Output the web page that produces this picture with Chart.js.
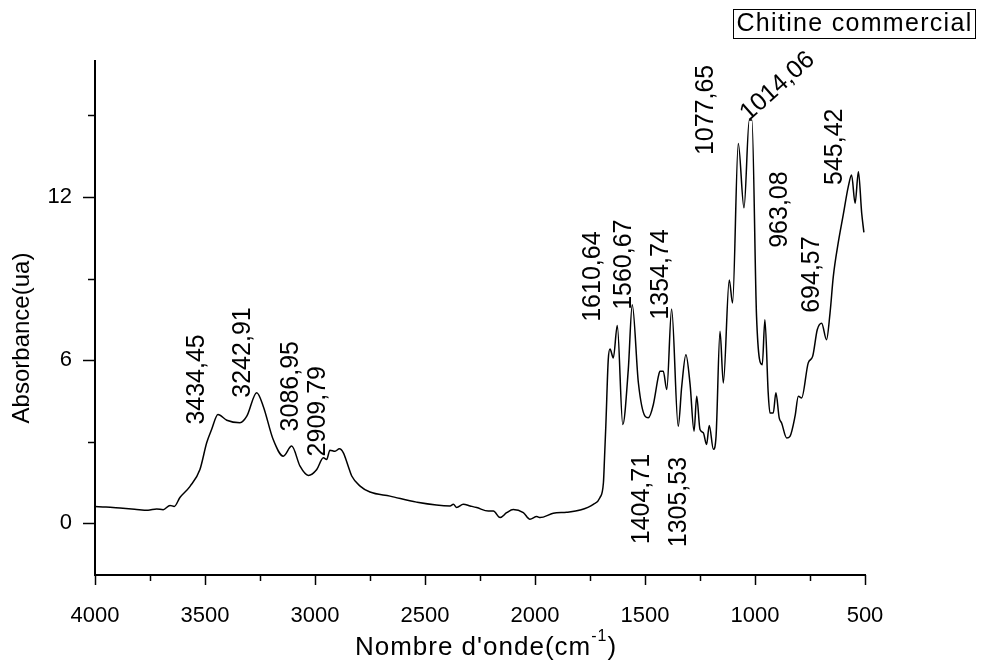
<!DOCTYPE html>
<html>
<head>
<meta charset="utf-8">
<script src="https://cdn.jsdelivr.net/npm/chart.js@4.4.0/dist/chart.umd.min.js"></script>
<style>
html, body { margin: 0; padding: 0; background: #fff; }
#wrap { width: 985px; height: 666px; }
</style>
</head>
<body>
<div id="wrap"><canvas id="ftirChart"></canvas></div>
<script>
// spectrum (cm-1 / absorbance)
var wavenumbers = [4000, 3950, 3873, 3820, 3759, 3720, 3690, 3659, 3640, 3614, 3568, 3523, 3492, 3470, 3441,
    3401, 3341, 3310, 3265, 3235, 3190, 3144, 3106, 3068, 3030, 2992, 2962, 2947, 2932, 2909, 2889, 2871,
    2849, 2833, 2795, 2750, 2659, 2538, 2386, 2371, 2356, 2326, 2295, 2265, 2212, 2189, 2159, 2129, 2099,
    2053, 2023, 1992, 1977, 1917, 1856, 1795, 1735, 1705, 1689, 1684, 1678, 1667, 1659, 1644, 1626, 1601,
    1576, 1558, 1530, 1500, 1485, 1462, 1439, 1432, 1417, 1401, 1379, 1349, 1333, 1314, 1295, 1277, 1265,
    1250, 1235, 1220, 1208, 1189, 1177, 1159, 1144, 1117, 1102, 1076, 1050, 1026, 1014, 993, 967, 955, 940,
    932, 917, 905, 890, 879, 856, 841, 818, 803, 788, 758, 738, 717, 697, 675, 659, 644, 622, 599, 576, 561,
    545, 530, 515, 505];
var absorbance = [0.62, 0.6, 0.55, 0.52, 0.48, 0.53, 0.5, 0.66, 0.62, 0.95, 1.36, 1.98, 2.97, 3.45, 4.0,
    3.79, 3.7, 3.94, 4.8, 4.3, 3.08, 2.47, 2.84, 2.1, 1.76, 1.98, 2.41, 2.35, 2.69, 2.65, 2.74, 2.59,
    2.1, 1.74, 1.37, 1.15, 1.0, 0.78, 0.64, 0.7, 0.58, 0.7, 0.64, 0.58, 0.45, 0.45, 0.21, 0.39, 0.51,
    0.39, 0.15, 0.25, 0.21, 0.37, 0.41, 0.49, 0.7, 0.94, 1.49, 2.4, 3.6, 6.02, 6.41, 6.08, 7.27, 3.63,
    5.65, 8.04, 5.16, 3.94, 3.88, 4.37, 5.41, 5.59, 5.59, 4.92, 7.88, 3.57, 5.04, 6.2, 5.1, 3.39, 4.67,
    3.45, 3.33, 2.9, 3.6, 2.72, 3.2, 7.06, 5.16, 8.95, 8.1, 13.97, 11.6, 14.83, 14.83, 7.61, 5.83, 7.49, 4.8,
    4.06, 4.06, 4.8, 3.88, 3.69, 3.14, 3.2, 3.94, 4.67, 4.61, 5.9, 6.14, 7.12, 7.36, 6.75, 7.73, 9.08, 10.3, 11.34, 12.38, 12.81,
    11.77, 12.93, 11.4, 10.7];
var xTicks = [4000, 3750, 3500, 3250, 3000, 2750, 2500, 2250, 2000, 1750, 1500, 1250, 1000, 750, 500];
var yTicks = [0, 3, 6, 9, 12, 15];
var peakLabels = ['3434,45', '3242,91', '3086,95', '2909,79', '1610,64', '1560,67', '1354,74',
    '1404,71', '1305,53', '1077,65', '1014,06', '963,08', '694,57', '545,42'];
var seriesName = 'Chitine commercial';

// where each peak label starts (cm-1, absorbance) and its angle
var labelSpots = [
    [3534, 3.63, 90], [3325, 4.62, 90], [3109, 3.38, 90], [2984, 2.46, 90],
    [1736, 7.41, 90], [1595, 7.85, 90], [1427, 7.49, 90],
    [1514, -0.77, 90], [1345, -0.88, 90], [1223, 13.54, 90], [1050, 14.95, 42],
    [886, 10.13, 90], [741, 7.74, 90], [636, 12.44, 90]
];

var points = wavenumbers.map(function (w, i) { return { x: w, y: absorbance[i] }; });
var fontName = '"Liberation Sans", Arial, sans-serif';

var ftirDecor = {
    id: 'ftirDecor',
    afterDraw: function (chart) {
        var ctx = chart.ctx, xs = chart.scales.x, ys = chart.scales.y, area = chart.chartArea;
        ctx.save();
        ctx.strokeStyle = '#000';
        ctx.fillStyle = '#000';
        ctx.lineWidth = 1.5;

        xTicks.forEach(function (v) {
            var px = Math.round(xs.getPixelForValue(v)) + 0.5;
            var len = v % 500 === 0 ? 10 : 6;
            ctx.beginPath();
            ctx.moveTo(px, area.bottom);
            ctx.lineTo(px, area.bottom + len);
            ctx.stroke();
        });
        yTicks.forEach(function (v) {
            var py = Math.round(ys.getPixelForValue(v)) + 0.5;
            var len = v % 6 === 0 ? 12 : 7;
            ctx.beginPath();
            ctx.moveTo(area.left, py);
            ctx.lineTo(area.left - len, py);
            ctx.stroke();
        });

        // peak labels
        ctx.font = '25px ' + fontName;
        ctx.textAlign = 'left';
        ctx.textBaseline = 'middle';
        peakLabels.forEach(function (t, i) {
            var s = labelSpots[i];
            ctx.save();
            ctx.translate(xs.getPixelForValue(s[0]), ys.getPixelForValue(s[1]));
            ctx.rotate(-s[2] * Math.PI / 180);
            ctx.fillText(t, 0, 0);
            ctx.restore();
        });

        // y title
        ctx.save();
        ctx.font = '24px ' + fontName;
        ctx.textAlign = 'center';
        ctx.translate(22, 338);
        ctx.rotate(-Math.PI / 2);
        ctx.fillText('Absorbance(ua)', 0, 0);
        ctx.restore();

        // x title with superscript
        ctx.letterSpacing = '1px';
        ctx.font = '26px ' + fontName;
        var a = "Nombre d'onde(cm", b = '-1', c = ')';
        var wa = ctx.measureText(a).width, wc = ctx.measureText(c).width;
        ctx.font = '16px ' + fontName;
        var wb = ctx.measureText(b).width;
        var x0 = 486 - (wa + wb + wc) / 2, y0 = 648;
        ctx.textAlign = 'left';
        ctx.font = '26px ' + fontName;
        ctx.fillText(a, x0, y0);
        ctx.font = '16px ' + fontName;
        ctx.fillText(b, x0 + wa, y0 - 11);
        ctx.font = '26px ' + fontName;
        ctx.fillText(c, x0 + wa + wb, y0);

        // legend box
        ctx.lineWidth = 1;
        ctx.strokeRect(733.5, 9.5, 242, 29);
        ctx.letterSpacing = '1.3px';
        ctx.font = '25px ' + fontName;
        ctx.textAlign = 'left';
        var wl = ctx.measureText(seriesName).width;
        ctx.fillText(seriesName, 854.5 - wl / 2, 24.5);
        ctx.restore();
    }
};

new Chart(document.getElementById('ftirChart').getContext('2d'), {
    type: 'line',
    data: {
        datasets: [{
            label: seriesName,
            data: points,
            borderColor: '#000',
            borderWidth: 1.5,
            pointRadius: 0,
            cubicInterpolationMode: 'monotone',
            fill: false
        }]
    },
    options: {
        responsive: true,
        maintainAspectRatio: false,
        animation: false,
        layout: { padding: { top: 61, right: 120, left: 0, bottom: 0 } },
        plugins: { legend: { display: false }, tooltip: { enabled: false } },
        scales: {
            x: {
                type: 'linear',
                reverse: true,
                min: 500,
                max: 4000,
                afterBuildTicks: function (scale) { scale.ticks = xTicks.map(function (v) { return { value: v }; }); },
                afterFit: function (scale) { scale.height = 91; },
                grid: { display: false },
                border: { display: true, color: '#000', width: 2 },
                ticks: {
                    autoSkip: false,
                    maxRotation: 0,
                    padding: 20,
                    color: '#000',
                    font: { family: fontName, size: 22 },
                    callback: function (v) { return v % 500 === 0 ? String(v) : ''; }
                }
            },
            y: {
                min: -1.9,
                max: 17,
                afterBuildTicks: function (scale) { scale.ticks = yTicks.map(function (v) { return { value: v }; }); },
                afterFit: function (scale) { scale.width = 95; },
                grid: { display: false },
                border: { display: true, color: '#000', width: 2 },
                ticks: {
                    padding: 15,
                    color: '#000',
                    font: { family: fontName, size: 22 },
                    callback: function (v) { return v % 6 === 0 ? String(v) : ''; }
                }
            }
        }
    },
    plugins: [ftirDecor]
});
</script>
</body>
</html>
